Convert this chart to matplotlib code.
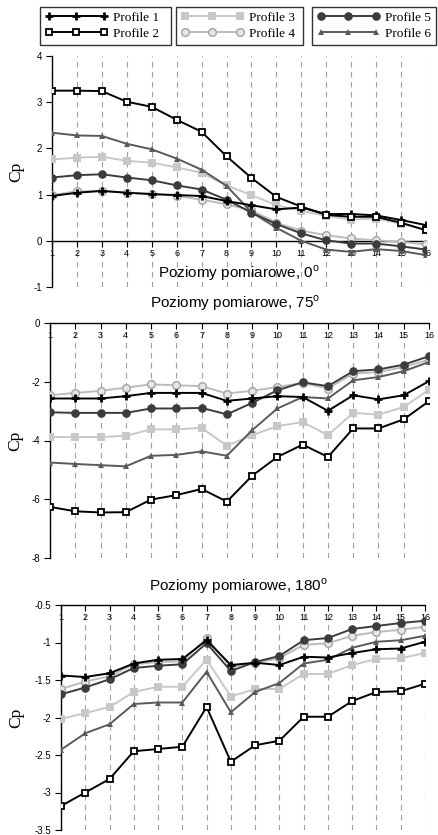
import matplotlib
matplotlib.use('Agg')
import matplotlib.pyplot as plt
from matplotlib.ticker import FuncFormatter
import numpy as np

plt.rcParams['font.family'] = ['Liberation Sans', 'DejaVu Sans']
plt.rcParams['axes.unicode_minus'] = False
plt.rcParams['mathtext.fontset'] = 'custom'
plt.rcParams['mathtext.rm'] = 'Liberation Sans'

# measurement levels
levels = np.arange(1, 17)
names = ['Profile 1', 'Profile 2', 'Profile 3', 'Profile 4', 'Profile 5', 'Profile 6']

# Cp, wind direction 0 deg
cp_0 = {
    'Profile 1': [0.97, 1.04, 1.08, 1.04, 1.01, 0.99, 0.97, 0.86, 0.77, 0.68, 0.72, 0.58, 0.58, 0.55, 0.45, 0.34],
    'Profile 2': [3.25, 3.25, 3.24, 3.01, 2.90, 2.62, 2.36, 1.83, 1.36, 0.95, 0.74, 0.56, 0.52, 0.52, 0.39, 0.23],
    'Profile 3': [1.76, 1.80, 1.82, 1.73, 1.69, 1.59, 1.47, 1.20, 0.99, 0.77, 0.65, 0.54, 0.46, 0.48, 0.37, 0.23],
    'Profile 4': [0.99, 1.07, 1.08, 1.04, 1.02, 0.97, 0.89, 0.79, 0.66, 0.39, 0.22, 0.12, 0.05, 0.01, -0.02, -0.08],
    'Profile 5': [1.37, 1.42, 1.44, 1.37, 1.31, 1.20, 1.11, 0.89, 0.61, 0.36, 0.16, 0.01, -0.06, -0.06, -0.12, -0.19],
    'Profile 6': [2.34, 2.28, 2.27, 2.10, 1.98, 1.78, 1.54, 1.19, 0.62, 0.28, 0.00, -0.19, -0.24, -0.18, -0.22, -0.31],
}

# Cp, wind direction 75 deg
cp_75 = {
    'Profile 1': [-2.57, -2.57, -2.57, -2.49, -2.38, -2.38, -2.38, -2.65, -2.57, -2.49, -2.52, -2.99, -2.46, -2.60, -2.46, -1.98],
    'Profile 2': [-6.26, -6.41, -6.45, -6.44, -6.01, -5.86, -5.65, -6.08, -5.20, -4.56, -4.14, -4.56, -3.59, -3.59, -3.28, -2.66],
    'Profile 3': [-3.88, -3.88, -3.88, -3.84, -3.62, -3.62, -3.57, -4.18, -3.82, -3.51, -3.37, -3.82, -3.06, -3.12, -2.86, -2.27],
    'Profile 4': [-2.46, -2.38, -2.31, -2.20, -2.09, -2.12, -2.15, -2.40, -2.31, -2.18, -2.04, -2.23, -1.72, -1.67, -1.50, -1.25],
    'Profile 5': [-3.04, -3.06, -3.06, -3.06, -2.91, -2.91, -2.89, -3.11, -2.72, -2.29, -2.02, -2.15, -1.64, -1.58, -1.42, -1.13],
    'Profile 6': [-4.75, -4.80, -4.84, -4.88, -4.52, -4.49, -4.37, -4.52, -3.65, -2.91, -2.52, -2.57, -1.95, -1.84, -1.64, -1.33],
}

# Cp, wind direction 180 deg
cp_180 = {
    'Profile 1': [-1.44, -1.46, -1.41, -1.28, -1.23, -1.22, -0.97, -1.30, -1.27, -1.30, -1.19, -1.20, -1.14, -1.09, -1.08, -0.99],
    'Profile 2': [-3.18, -3.00, -2.82, -2.45, -2.42, -2.39, -1.86, -2.59, -2.37, -2.31, -1.99, -1.99, -1.78, -1.66, -1.65, -1.55],
    'Profile 3': [-2.02, -1.94, -1.86, -1.66, -1.59, -1.59, -1.23, -1.72, -1.62, -1.62, -1.42, -1.42, -1.30, -1.22, -1.21, -1.14],
    'Profile 4': [-1.62, -1.52, -1.45, -1.29, -1.26, -1.25, -0.94, -1.33, -1.27, -1.21, -1.03, -1.01, -0.91, -0.86, -0.83, -0.79],
    'Profile 5': [-1.69, -1.60, -1.49, -1.34, -1.31, -1.29, -1.01, -1.38, -1.26, -1.18, -0.97, -0.94, -0.82, -0.78, -0.74, -0.71],
    'Profile 6': [-2.43, -2.21, -2.09, -1.82, -1.80, -1.80, -1.39, -1.93, -1.66, -1.54, -1.28, -1.23, -1.07, -0.99, -0.97, -0.91],
}

styles = {
    'Profile 1': dict(color='black', marker='+', ms=6, mew=2.0, zorder=6),
    'Profile 2': dict(color='black', marker='s', ms=4.8, mew=1.3, mfc='white', zorder=7),
    'Profile 3': dict(color='#c8c8c8', marker='s', ms=5.5, mew=0, zorder=3),
    'Profile 4': dict(color='#bcbcbc', marker='o', ms=5.5, mew=1.1, mfc='#e6e6e6', mec='#a8a8a8', zorder=4),
    'Profile 5': dict(color='#3c3c3c', marker='o', ms=6.2, mew=0, zorder=5),
    'Profile 6': dict(color='#5a5a5a', marker='^', ms=4.5, mew=0, zorder=4),
}

fig = plt.figure(figsize=(4.38, 8.35), dpi=100)
W, H = 438.0, 835.0


def make_axes(x0, x1, ytop, ybot):
    return fig.add_axes([x0 / W, 1 - ybot / H, (x1 - x0) / W, (ybot - ytop) / H])


def draw_panel(ax, data, ylo, yhi, ystep, xaxis_at):
    handles = []
    for name in names:
        h, = ax.plot(levels, data[name], lw=1.4, **styles[name])
        handles.append(h)
    ax.set_xlim(1, 16)
    ax.set_ylim(ylo, yhi)
    ax.set_yticks(np.arange(ylo, yhi + ystep / 2, ystep))
    ax.yaxis.set_major_formatter(FuncFormatter(lambda v, p: '%g' % v))
    ax.set_xticks(levels)
    ax.spines['top'].set_visible(False)
    ax.spines['right'].set_visible(False)
    ax.spines['bottom'].set_position(('data', xaxis_at))
    ax.spines['bottom'].set_linewidth(1.0)
    ax.spines['left'].set_linewidth(1.0)
    ax.spines['bottom'].set_zorder(2)
    ax.tick_params(axis='x', direction='out', length=4, width=0.8, pad=2, labelsize=6.5)
    ax.tick_params(axis='y', direction='out', length=4, width=0.8, pad=3, labelsize=7)
    ax.grid(axis='x', color='#a0a0a0', linestyle=(0, (5, 4)), lw=0.8)
    ax.set_axisbelow(True)
    ax.set_ylabel('Cp', family=['Liberation Serif'], fontsize=12.5)
    ax.patch.set_alpha(0)
    return handles


ax1 = make_axes(52, 426, 56, 287)
handles = draw_panel(ax1, cp_0, -1, 4, 1, 0)
ax1.yaxis.set_label_coords(-0.075, 0.5)
ax1.text(8.5, -0.69, 'Poziomy pomiarowe, 0$^{\\mathrm{o}}$', ha='center', va='center', fontsize=11)

ax2 = make_axes(50, 429, 323, 558)
draw_panel(ax2, cp_75, -8, 0, 2, 0)
ax2.yaxis.set_label_coords(-0.07, 0.5)
fig.text((150 + 320) / 2 / W, 1 - 303 / H, 'Poziomy pomiarowe, 75$^{\\mathrm{o}}$', ha='center', va='center', fontsize=11)

ax3 = make_axes(61, 425, 605, 830)
draw_panel(ax3, cp_180, -3.5, -0.5, 0.5, -0.5)
ax3.yaxis.set_label_coords(-0.1, 0.5)
fig.text((153 + 323) / 2 / W, 1 - 586 / H, 'Poziomy pomiarowe, 180$^{\\mathrm{o}}$', ha='center', va='center', fontsize=11)

# three framed legend boxes across the top
boxes = [(40, 171), (176, 303), (312, 436)]
for i, (bx0, bx1) in enumerate(boxes):
    leg = fig.legend(handles[2 * i:2 * i + 2], names[2 * i:2 * i + 2],
                     loc='upper left', bbox_to_anchor=(bx0 / W, 1 - 50 / H, (bx1 - bx0) / W, 43 / H),
                     mode='expand', numpoints=3, handlelength=4.8, handletextpad=0.4,
                     borderaxespad=0, borderpad=0.35, labelspacing=0.3, frameon=True, fancybox=False,
                     prop={'family': 'Liberation Serif', 'size': 9.5})
    leg.get_frame().set_edgecolor('black')
    leg.get_frame().set_linewidth(1.0)

fig.savefig('out.png', dpi=100)
